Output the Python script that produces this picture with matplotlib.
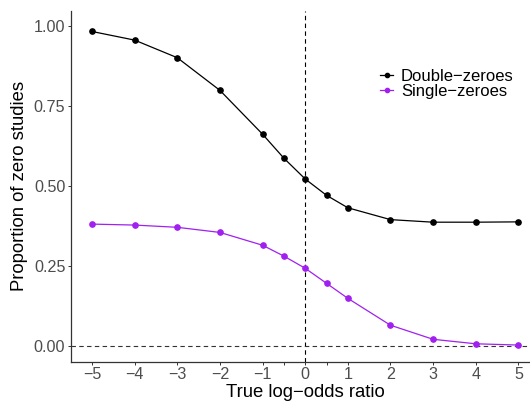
import matplotlib
matplotlib.use("Agg")
import matplotlib.pyplot as plt
import numpy as np

plt.rcParams['font.family'] = ['Liberation Sans', 'DejaVu Sans']
plt.rcParams['axes.unicode_minus'] = True

# log-odds values where the simulation was run
log_odds = [-5, -4, -3, -2, -1, -0.5, 0, 0.5, 1, 2, 3, 4, 5]
double_zeroes = [0.982, 0.955, 0.900, 0.798, 0.661, 0.586, 0.521, 0.470, 0.431, 0.394, 0.386, 0.386, 0.387]
single_zeroes = [0.380, 0.377, 0.370, 0.354, 0.314, 0.280, 0.242, 0.195, 0.148, 0.064, 0.020, 0.006, 0.002]

x_tick_labels = ['\u22125', '\u22124', '\u22123', '\u22122', '\u22121', '', '0', '', '1', '2', '3', '4', '5']
y_ticks = [0.0, 0.25, 0.5, 0.75, 1.0]
y_tick_labels = ['0.00', '0.25', '0.50', '0.75', '1.00']

W, H = 530, 405
fig = plt.figure(figsize=(W / 100, H / 100), dpi=100)
# axes in pixel coords: left 70.7, right 539.7 (runs past the edge), top 11, bottom 361.7
left, right, top, bottom = 70.7, 539.7, 11.0, 361.7
ax = fig.add_axes([left / W, (H - bottom) / H, (right - left) / W, (bottom - top) / H])

ax.axvline(0, color='black', lw=0.8, ls=(0, (4, 3)), zorder=1)
ax.axhline(0, color='#333333', lw=0.8, ls=(0, (4, 3)), zorder=1)

ax.plot(log_odds, double_zeroes, color='black', lw=0.9, marker='o', ms=3.8,
        label='Double\u2212zeroes', zorder=3)
ax.plot(log_odds, single_zeroes, color='#A020F0', lw=0.9, marker='o', ms=3.8,
        label='Single\u2212zeroes', zorder=3)

ax.set_xlim(-5.5, 5.5)
ax.set_ylim(-0.05, 1.046)

ax.set_xticks(log_odds)
ax.set_xticklabels(x_tick_labels)
ax.set_yticks(y_ticks)
ax.set_yticklabels(y_tick_labels)
ax.tick_params(axis='both', colors='#333333', labelcolor='#4D4D4D', labelsize=11.6,
               length=2.4, width=0.7, pad=1.5)

for s in ['top', 'right']:
    ax.spines[s].set_visible(False)
for s in ['left', 'bottom']:
    ax.spines[s].set_color('#333333')
    ax.spines[s].set_linewidth(0.9)

ax.set_xlabel('True log\u2212odds ratio', fontsize=13.3, color='black', labelpad=1)
ax.set_ylabel('Proportion of zero studies', fontsize=13.3, color='black', labelpad=4)

leg = ax.legend(loc='center left', bbox_to_anchor=(380 / W, 1 - 84 / H),
                bbox_transform=fig.transFigure, frameon=False, fontsize=12,
                handlelength=0.8, handletextpad=0.45, labelspacing=0.0,
                borderpad=0, borderaxespad=0, markerscale=0.8)

fig.savefig('out.png', dpi=100)
